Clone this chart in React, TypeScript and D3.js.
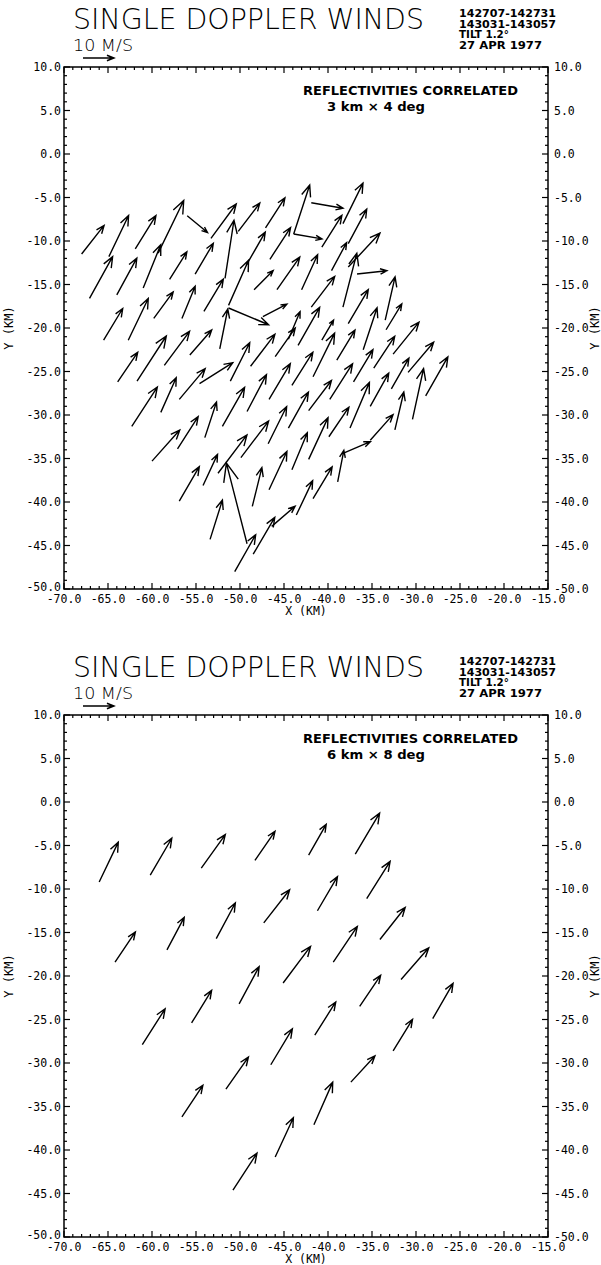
import React from "react";
import * as d3 from "d3";

// Plot header text
const TITLE = "SINGLE DOPPLER WINDS";
const SPEED_LABEL = "10 M/S";
const TIME_LINES = ["142707-142731", "143031-143057", "TILT 1.2°", "27 APR 1977"];
const NOTE = "REFLECTIVITIES CORRELATED";
const SUBTITLES = ["3 km × 4 deg", "6 km × 8 deg"];

// Axis ticks (km)
const X_TICKS = [-70, -65, -60, -55, -50, -45, -40, -35, -30, -25, -20, -15];
const Y_TICKS = [10, 5, 0, -5, -10, -15, -20, -25, -30, -35, -40, -45, -50];

// Reference vector speed (m/s) and arrow length per m/s (km)
const REF_SPEED = 10;
const KM_PER_MS = 0.35;

// Wind vectors: [x km, y km, u m/s, v m/s] (x, y at the arrow tail)
const WINDS_3KM: [number, number, number, number][] = [
  [-68.0, -11.5, 7.3, 9.4],
  [-64.9, -11.8, 6.4, 13.5],
  [-61.9, -10.9, 6.7, 10.9],
  [-59.3, -11.4, 8.3, 17.3],
  [-56.0, -7.1, 6.6, -5.5],
  [-53.3, -9.7, 8.2, 11.3],
  [-51.7, -14.3, 2.9, 19.1],
  [-50.2, -8.9, 7.0, 9.3],
  [-47.1, -8.5, 6.3, 9.9],
  [-43.9, -9.2, 5.2, 16.1],
  [-43.9, -9.2, 9.2, -1.6],
  [-41.9, -5.6, 10.3, -1.8],
  [-67.1, -16.6, 7.5, 13.7],
  [-64.0, -16.2, 6.5, 12.1],
  [-61.0, -15.4, 5.7, 14.2],
  [-58.0, -14.4, 5.6, 9.0],
  [-55.1, -13.8, 5.9, 10.1],
  [-51.3, -17.4, 6.5, 14.8],
  [-49.3, -12.8, 6.2, 10.9],
  [-48.4, -15.6, 6.2, 6.3],
  [-46.6, -12.1, 6.7, 10.4],
  [-45.8, -15.6, 7.4, 10.7],
  [-43.0, -15.6, 5.2, 11.5],
  [-65.5, -21.4, 6.2, 10.4],
  [-62.7, -21.4, 6.5, 13.7],
  [-59.8, -18.9, 6.3, 8.7],
  [-56.6, -18.9, 4.3, 10.6],
  [-54.1, -18.1, 6.3, 10.6],
  [-51.3, -17.7, 13.0, -5.5],
  [-47.4, -18.7, 7.8, 4.1],
  [-44.5, -21.3, 3.8, 9.1],
  [-43.4, -22.0, 7.0, 12.5],
  [-38.3, -8.0, 6.5, 13.3],
  [-40.7, -10.7, 6.5, 10.4],
  [-37.7, -10.3, 6.0, 11.3],
  [-39.6, -13.4, 4.9, 9.2],
  [-37.7, -13.0, 10.3, 11.2],
  [-38.3, -17.6, 4.5, 17.7],
  [-36.7, -13.8, 9.7, 1.1],
  [-41.9, -17.6, 7.6, 10.1],
  [-37.7, -19.5, 6.5, 11.2],
  [-33.5, -19.1, 3.2, 14.2],
  [-33.4, -20.2, 5.1, 8.5],
  [-40.7, -21.4, 3.8, 6.6],
  [-41.7, -25.6, 7.0, 14.3],
  [-39.0, -23.7, 5.9, 9.9],
  [-36.0, -22.5, 4.5, 13.8],
  [-32.6, -23.0, 8.4, 10.5],
  [-42.2, -29.5, 7.4, 9.9],
  [-39.8, -28.2, 7.4, 11.7],
  [-37.1, -26.2, 6.3, 10.6],
  [-34.8, -24.6, 6.8, 10.4],
  [-37.5, -31.5, 6.3, 15.0],
  [-35.2, -29.0, 6.0, 10.9],
  [-32.8, -27.0, 5.7, 10.1],
  [-30.9, -25.1, 8.3, 9.9],
  [-28.9, -27.8, 7.2, 12.8],
  [-30.4, -30.5, 3.6, 16.7],
  [-32.4, -31.7, 2.9, 12.4],
  [-39.9, -32.5, 6.5, 9.7],
  [-42.2, -35.1, 6.3, 13.7],
  [-35.2, -32.9, 7.4, 8.4],
  [-38.3, -34.4, 8.9, 3.8],
  [-38.9, -37.7, 2.0, 10.4],
  [-41.7, -39.6, 6.2, 10.4],
  [-43.6, -41.5, 5.3, 11.3],
  [-44.1, -36.3, 5.0, 12.2],
  [-52.3, -22.4, 2.6, 13.1],
  [-55.7, -23.1, 7.1, 8.2],
  [-63.9, -26.2, 6.5, 9.7],
  [-61.7, -26.1, 9.5, 14.8],
  [-58.6, -24.3, 8.2, 11.2],
  [-54.6, -26.4, 10.8, 6.9],
  [-56.9, -28.2, 8.4, 10.1],
  [-59.0, -29.7, 5.0, 11.4],
  [-62.3, -31.3, 8.3, 12.9],
  [-51.1, -26.1, 6.3, 12.6],
  [-48.8, -24.4, 7.9, 10.5],
  [-46.0, -23.3, 6.5, 9.4],
  [-52.0, -31.3, 7.2, 12.8],
  [-49.2, -29.6, 6.3, 12.1],
  [-46.7, -28.2, 6.9, 11.7],
  [-44.1, -26.6, 6.8, 10.9],
  [-54.0, -32.6, 3.8, 11.7],
  [-57.1, -33.9, 6.7, 10.6],
  [-60.0, -35.3, 9.0, 10.2],
  [-49.9, -34.9, 9.0, 12.0],
  [-46.8, -33.3, 6.0, 12.2],
  [-44.5, -31.5, 6.5, 11.8],
  [-52.5, -36.7, 9.4, 12.6],
  [-54.2, -38.1, 4.7, 10.2],
  [-56.9, -39.9, 6.5, 11.3],
  [-49.2, -44.8, -6.7, 26.5],
  [-48.5, -46.0, 7.0, 12.1],
  [-46.4, -42.8, 7.6, 6.6],
  [-50.6, -48.0, 6.8, 12.1],
  [-53.4, -44.3, 4.0, 12.9],
  [-48.6, -40.5, 3.1, 12.7],
  [-46.7, -38.6, 5.8, 12.6],
];

const WINDS_6KM: [number, number, number, number][] = [
  [-66.0, -9.2, 6.2, 13.1],
  [-60.2, -8.4, 7.0, 12.1],
  [-54.4, -7.6, 7.8, 11.0],
  [-48.3, -6.7, 6.5, 9.5],
  [-42.2, -6.1, 5.7, 10.1],
  [-36.9, -6.0, 7.9, 13.5],
  [-64.2, -18.4, 6.6, 9.9],
  [-58.3, -17.0, 5.6, 10.7],
  [-52.7, -15.7, 6.2, 11.7],
  [-47.3, -13.9, 8.4, 10.9],
  [-41.2, -12.5, 6.5, 11.2],
  [-35.6, -11.1, 7.6, 12.2],
  [-61.1, -27.9, 7.4, 11.8],
  [-55.5, -25.4, 6.5, 10.7],
  [-50.1, -23.2, 6.5, 12.2],
  [-45.1, -20.8, 8.9, 12.0],
  [-39.4, -18.4, 7.8, 11.7],
  [-34.1, -15.8, 8.2, 10.5],
  [-31.7, -20.4, 9.0, 10.4],
  [-56.6, -36.2, 6.8, 10.4],
  [-51.6, -33.0, 7.3, 10.5],
  [-46.5, -30.2, 7.0, 11.8],
  [-41.5, -26.8, 6.8, 10.9],
  [-36.4, -23.5, 6.8, 10.2],
  [-28.1, -24.9, 6.6, 11.6],
  [-32.6, -28.6, 6.3, 10.3],
  [-37.4, -32.2, 7.8, 8.6],
  [-50.8, -44.6, 7.8, 12.1],
  [-46.0, -40.8, 5.9, 12.9],
  [-41.6, -37.1, 6.1, 14.0],
];

const W = 601;
const H = 1265;
const PLOT_LEFT = 64;
const PLOT_RIGHT = 548;
const PLOT_TOP = 67;
const PLOT_BOTTOM = 589;
const PANEL_OFFSETS = [0, 648];

const AXIS_FONT = "'DejaVu Sans Mono', monospace";
const THIN_FONT = "'DejaVu Sans', sans-serif";

function arrowPath(x0: number, y0: number, x1: number, y1: number): string {
  const dx = x1 - x0;
  const dy = y1 - y0;
  const len = Math.hypot(dx, dy);
  const barb = Math.max(5, len * 0.24);
  const ang = Math.atan2(dy, dx);
  const spread = (22 * Math.PI) / 180;
  const p = d3.path();
  p.moveTo(x0, y0);
  p.lineTo(x1, y1);
  p.moveTo(x1 - barb * Math.cos(ang - spread), y1 - barb * Math.sin(ang - spread));
  p.lineTo(x1, y1);
  p.lineTo(x1 - barb * Math.cos(ang + spread), y1 - barb * Math.sin(ang + spread));
  return p.toString();
}

function Panel({ oy, subtitle, winds }: { oy: number; subtitle: string; winds: [number, number, number, number][] }) {
  const x = d3.scaleLinear().domain([-70, -15]).range([PLOT_LEFT, PLOT_RIGHT]);
  const y = d3.scaleLinear().domain([-50, 10]).range([PLOT_BOTTOM + oy, PLOT_TOP + oy]);
  const top = y(10);
  const bottom = y(-50);

  const minorX = d3.range(-70, -15 + 0.001, 1);
  const minorY = d3.range(-50, 10 + 0.001, 1);

  const refLen = x(-70 + REF_SPEED * KM_PER_MS) - x(-70);
  const refX0 = 83;
  const refY = 58 + oy;

  return (
    <g>
      {/* header */}
      <text x={73} y={29 + oy} fontFamily={THIN_FONT} fontWeight={200} fontSize={29}
        textLength={351} lengthAdjust="spacingAndGlyphs">{TITLE}</text>
      <text x={73} y={51 + oy} fontFamily={THIN_FONT} fontWeight={300} fontSize={16}
        textLength={60} lengthAdjust="spacingAndGlyphs">{SPEED_LABEL}</text>
      <path d={arrowPath(refX0, refY, refX0 + refLen, refY)} stroke="#000" strokeWidth={1.6} fill="none" />
      {TIME_LINES.map((t, i) => (
        <text key={t} x={459} y={17 + oy + i * 10.5} fontFamily={THIN_FONT} fontWeight="bold" fontSize={10.5}
          textLength={[97, 97, 50, 83][i]} lengthAdjust="spacingAndGlyphs">{t}</text>
      ))}

      {/* frame */}
      <rect x={PLOT_LEFT} y={top} width={PLOT_RIGHT - PLOT_LEFT} height={bottom - top}
        fill="none" stroke="#000" strokeWidth={1.5} />

      {/* ticks */}
      {minorX.map((v) => {
        const major = Math.abs(v % 5) < 1e-6;
        const len = major ? 6 : 3;
        return (
          <g key={"x" + v}>
            <line x1={x(v)} x2={x(v)} y1={top} y2={top + len} stroke="#000" strokeWidth={1.2} />
            <line x1={x(v)} x2={x(v)} y1={bottom} y2={bottom - len} stroke="#000" strokeWidth={1.2} />
          </g>
        );
      })}
      {minorY.map((v) => {
        const major = Math.abs(v % 5) < 1e-6;
        const len = major ? 6 : 3;
        return (
          <g key={"y" + v}>
            <line x1={PLOT_LEFT} x2={PLOT_LEFT + len} y1={y(v)} y2={y(v)} stroke="#000" strokeWidth={1.2} />
            <line x1={PLOT_RIGHT} x2={PLOT_RIGHT - len} y1={y(v)} y2={y(v)} stroke="#000" strokeWidth={1.2} />
          </g>
        );
      })}

      {/* tick labels */}
      {Y_TICKS.map((v) => (
        <g key={"yl" + v}>
          <text x={61} y={y(v) + (v === -50 ? 2 : 4)} textAnchor="end" fontFamily={AXIS_FONT} fontSize={11.5}>{v.toFixed(1)}</text>
          <text x={554} y={y(v) + 4} textAnchor="start" fontFamily={AXIS_FONT} fontSize={11.5}>{v.toFixed(1)}</text>
        </g>
      ))}
      {X_TICKS.map((v) => (
        <text key={"xl" + v} x={x(v)} y={bottom + 14} textAnchor="middle" fontFamily={AXIS_FONT} fontSize={11.5}>
          {v.toFixed(1)}
        </text>
      ))}
      <text x={306} y={bottom + 25.5} textAnchor="middle" fontFamily={AXIS_FONT} fontSize={11.5}>X (KM)</text>
      <text transform={`translate(13,${y(-20)}) rotate(-90)`} textAnchor="middle" fontFamily={AXIS_FONT} fontSize={12}>Y (KM)</text>
      <text transform={`translate(599,${y(-20)}) rotate(-90)`} textAnchor="middle" fontFamily={AXIS_FONT} fontSize={12}>Y (KM)</text>

      {/* annotation */}
      <text x={303} y={95 + oy} fontFamily={THIN_FONT} fontWeight="bold" fontSize={12.5}
        textLength={215} lengthAdjust="spacingAndGlyphs">{NOTE}</text>
      <text x={327} y={111 + oy} fontFamily={THIN_FONT} fontWeight="bold" fontSize={12.5}
        textLength={98} lengthAdjust="spacingAndGlyphs">{subtitle}</text>

      {/* wind vectors */}
      {winds.map(([wx, wy, u, v], i) => {
        const x0 = x(wx);
        const y0 = y(wy);
        const x1 = x(wx + u * KM_PER_MS);
        const y1 = y(wy + v * KM_PER_MS);
        return <path key={i} d={arrowPath(x0, y0, x1, y1)} stroke="#000" strokeWidth={1.4} fill="none" />;
      })}
    </g>
  );
}

export default function App() {
  return (
    <div style={{ position: "absolute", left: 0, top: 0 }}>
      <svg width={W} height={H} viewBox={`0 0 ${W} ${H}`} style={{ display: "block", background: "#fff" }}>
        <rect width={W} height={H} fill="#fff" />
        {PANEL_OFFSETS.map((oy, i) => (
          <Panel key={i} oy={oy} subtitle={SUBTITLES[i]} winds={i === 0 ? WINDS_3KM : WINDS_6KM} />
        ))}
      </svg>
    </div>
  );
}
